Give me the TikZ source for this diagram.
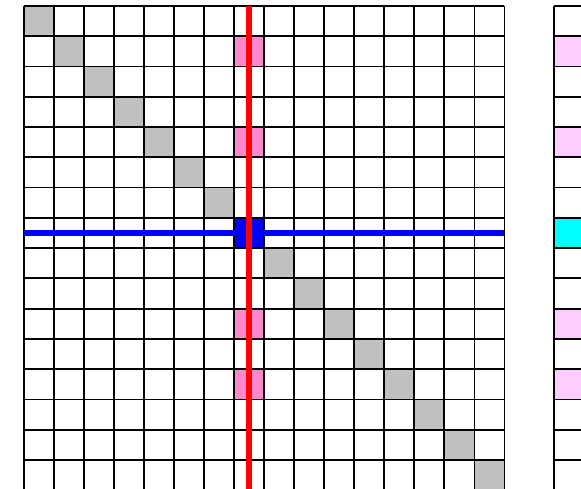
\documentclass[tikz,border=0pt]{standalone}
\usepackage{tikz}
\definecolor{diaggray}{HTML}{C0C0C0}
\definecolor{hotpink}{HTML}{FF88CC}
\definecolor{softpink}{HTML}{FFCCFF}
\definecolor{aqua}{HTML}{00FFFF}
\tikzset{
  gridline/.style={black,line width=1.7pt},
  diagcell/.style={fill=diaggray},
  hitcell/.style={fill=hotpink},
  vechit/.style={fill=softpink},
  vecpivot/.style={fill=aqua},
  pivotcell/.style={fill=blue},
  rowline/.style={blue,line width=5.7pt},
  colline/.style={red,line width=5.7pt},
}

\begin{document}
\begin{tikzpicture}[x=1cm,y=1.008cm]
\useasboundingbox (-0.80,0.198) rectangle (18.55,-15.957);
\clip (-0.80,0.198) rectangle (18.55,-15.957);
% matrix cells
\foreach \i in {0,...,15}
  \fill[diagcell] (\i,-\i) rectangle ++(1,-1);
\foreach \r in {1,4,10,12}
  \fill[hitcell] (7,-\r) rectangle ++(1,-1);
\fill[pivotcell] (7,-7) rectangle ++(1,-1);
% vector cells
\foreach \r in {1,4,10,12}
  \fill[vechit] (17.66,-\r) rectangle ++(1,-1);
\fill[vecpivot] (17.66,-7) rectangle ++(1,-1);
% grid lines
\foreach \k in {0,...,16} {
  \draw[gridline] (\k,0) -- (\k,-16);
  \draw[gridline] (0,-\k) -- (16,-\k);
  \draw[gridline] (17.66,-\k) -- (18.66,-\k);
}
\draw[gridline] (17.66,0) -- (17.66,-16);
\draw[gridline] (18.66,0) -- (18.66,-16);
% pivot row and column
\coordinate (rowW) at (0,-7.5);
\coordinate (rowE) at (16,-7.5);
\coordinate (colN) at (7.5,0);
\coordinate (colS) at (7.5,-16);
\draw[rowline] (rowW) -- (rowE);
\draw[colline] (colN) -- (colS);
\end{tikzpicture}
\end{document}
